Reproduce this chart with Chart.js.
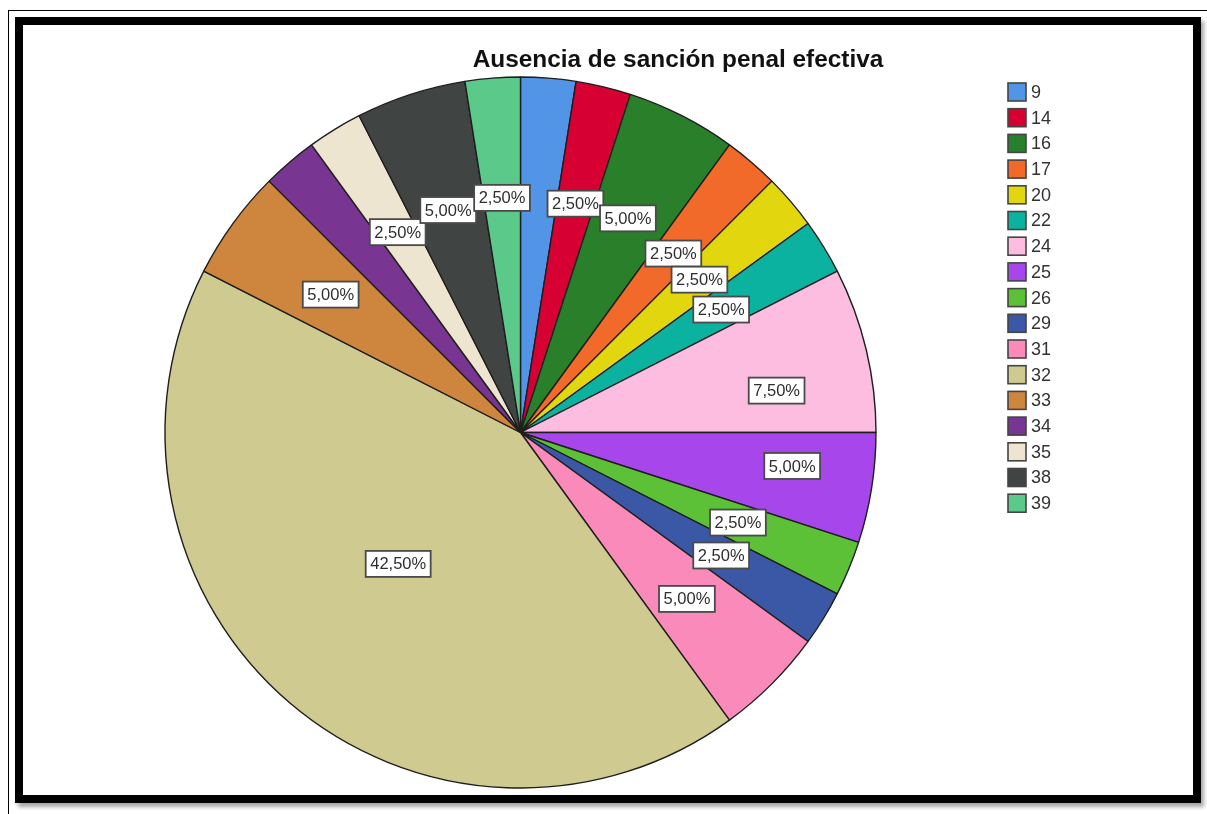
<!DOCTYPE html>
<html>
<head>
<meta charset="utf-8">
<script src="https://cdn.jsdelivr.net/npm/chart.js@4"></script>
<style>
  html, body { margin: 0; padding: 0; background: #fff; width: 1207px; height: 814px; overflow: hidden; }
  #thin { position: absolute; left: 8px; top: 10px; width: 1300px; height: 900px; border-top: 1px solid #000; border-left: 1px solid #000; }
  #frame { position: absolute; left: 15px; top: 17px; width: 1170px; height: 770px; border: 8px solid #000; background: #fff; box-shadow: 3px 4px 4px rgba(0,0,0,0.35); }
  #c { position: absolute; left: 0; top: 0; }
</style>
</head>
<body>
<div id="thin"></div>
<div id="frame"></div>
<canvas id="c" width="1207" height="814"></canvas>
<script>
// ---- data ----
const title = 'Ausencia de sanción penal efectiva';
const categories = ['9','14','16','17','20','22','24','25','26','29','31','32','33','34','35','38','39'];
const counts = [1,1,2,1,1,1,3,2,1,1,2,17,2,1,1,2,1];
const colors = ['#5294e6','#d60032','#2a7f2a','#f26a2a','#e2d60f','#0cb2a0','#fcbde0','#a746ea',
                '#5cc136','#3b58a6','#f98ab9','#cfca8f','#ce853e','#793592','#ede5cf','#404443','#5ac98a'];

const total = counts.reduce((a, b) => a + b, 0);
// label placement (style only): radial fraction and position within slice; null = hidden
const labelRadius = [null,.662,.674,.662,.662,.662,.73,.77,.662,.662,.662,.505,.66,null,.661,.658,.662];
const labelFrac =   [.5,.5,.48,.5,.5,.5,.656,.39,.5,.5,.5,.516,.5,.5,.5,.5,.5];

const fmt = v => (v * 100 / total).toFixed(2).replace('.', ',') + '%';

const overlay = {
  id: 'overlay',
  afterDatasetsDraw(chart) {
    const ctx = chart.ctx;
    const meta = chart.getDatasetMeta(0);
    ctx.save();
    ctx.font = '16.5px "Liberation Sans", Arial, sans-serif';
    ctx.textAlign = 'center';
    ctx.textBaseline = 'middle';
    meta.data.forEach((arc, i) => {
      if (labelRadius[i] == null) return;
      const p = arc.getProps(['x','y','startAngle','endAngle','outerRadius'], true);
      const a = p.startAngle + (p.endAngle - p.startAngle) * labelFrac[i];
      const r = p.outerRadius * labelRadius[i];
      const cx = p.x + Math.cos(a) * r, cy = p.y + Math.sin(a) * r;
      const txt = fmt(counts[i]);
      const w = ctx.measureText(txt).width + 9, h = 26;
      ctx.fillStyle = '#fff';
      ctx.fillRect(cx - w/2, cy - h/2, w, h);
      ctx.strokeStyle = '#4a4a4a';
      ctx.lineWidth = 1.8;
      ctx.strokeRect(cx - w/2, cy - h/2, w, h);
      ctx.fillStyle = '#2e2e2e';
      ctx.fillText(txt, cx, cy + 1);
    });
    // title
    ctx.font = 'bold 24.4px "Liberation Sans", Arial, sans-serif';
    ctx.fillStyle = '#111';
    ctx.textAlign = 'center';
    ctx.textBaseline = 'alphabetic';
    ctx.fillText(title, 678, 67);
    // legend
    ctx.font = '18px "Liberation Sans", Arial, sans-serif';
    ctx.textAlign = 'left';
    ctx.textBaseline = 'middle';
    categories.forEach((c, i) => {
      const y = 92 + i * 25.7;
      ctx.fillStyle = colors[i];
      ctx.fillRect(1008, y - 9, 18, 18);
      ctx.strokeStyle = '#444';
      ctx.lineWidth = 1.6;
      ctx.strokeRect(1008, y - 9, 18, 18);
      ctx.fillStyle = '#333';
      ctx.fillText(c, 1031, y + 1);
    });
    ctx.restore();
  }
};

new Chart(document.getElementById('c'), {
  type: 'pie',
  data: {
    labels: categories,
    datasets: [{
      data: counts,
      backgroundColor: colors,
      borderColor: '#1e1e1e',
      borderWidth: 1.4
    }]
  },
  options: {
    responsive: false,
    animation: false,
    radius: 355.5,
    layout: { padding: { left: 100, right: 266, top: 60, bottom: 9 } },
    plugins: { legend: { display: false }, title: { display: false }, tooltip: { enabled: false } }
  },
  plugins: [overlay]
});
</script>
</body>
</html>
